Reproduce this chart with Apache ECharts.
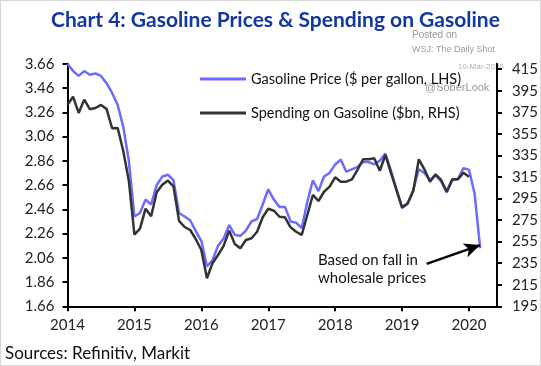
<!DOCTYPE html>
<html><head><meta charset="utf-8">
<script src="https://cdn.jsdelivr.net/npm/echarts@6/dist/echarts.min.js"></script>
<style>
html,body{margin:0;padding:0;background:#fff}
#c{width:541px;height:366px}
#f{position:absolute;left:0;top:0;width:539px;height:364px;border:1px solid #d8d8d8;pointer-events:none}
</style>
</head><body><div id="c"></div><div id="f"></div>
<script>
// Month categories Jan 2014 .. Jun 2020 (axis extent)
const months = [];
for (let y = 2014; y <= 2020; y++) for (let m = 1; m <= 12; m++) months.push(y + '-' + String(m).padStart(2, '0'));
months.length = 78;

// Gasoline price ($ per gallon, LHS), Jan 2014 .. Mar 2020
const gasPrice = [3.66,3.60,3.56,3.60,3.57,3.58,3.56,3.50,3.42,3.32,3.14,2.86,
  2.40,2.43,2.54,2.50,2.66,2.73,2.745,2.70,2.43,2.40,2.37,2.28,
  2.20,1.99,2.04,2.16,2.22,2.33,2.25,2.24,2.285,2.36,2.38,2.50,
  2.625,2.54,2.48,2.48,2.36,2.35,2.305,2.52,2.70,2.61,2.73,2.76,
  2.83,2.87,2.77,2.79,2.81,2.85,2.85,2.83,2.86,2.92,2.78,2.62,
  2.47,2.505,2.62,2.79,2.76,2.70,2.74,2.69,2.60,2.70,2.71,2.80,
  2.785,2.59,2.14];

// Spending on gasoline ($bn, RHS), Jan 2014 .. Jan 2020
const spending = [382,389.5,374.4,386.7,377.9,379,381.8,378.2,360.2,360.4,339.1,311.3,
  261.6,267,285.6,278.5,300.9,307.8,311.7,306.3,274.3,268.6,265.8,257.4,
  247.2,221,234.9,242.6,251,265.2,252.8,248.8,256.5,258.1,264.2,277.6,
  285.5,283.7,278.1,277.6,268.3,264.2,261.2,279.7,298.3,292.7,301.3,306,
  314.7,310.6,310.6,312.8,321.5,331.4,331.4,332.3,320.8,335.4,318.7,302.9,
  286.9,290.6,302,331.4,322.1,310.6,317.5,312.2,301.3,312.8,312.8,319,
  315.3];

const yearLabels = ['2014','2015','2016','2017','2018','2019','2020'];
const priceTicks = [1.66,1.86,2.06,2.26,2.46,2.66,2.86,3.06,3.26,3.46,3.66];
const spendTicks = [195,215,235,255,275,295,315,335,355,375,395,415];

const FONT = 'Lato';
const yearTickIdx = yearLabels.map(y => months.indexOf(y + '-01'));

const chart = echarts.init(document.getElementById('c'), null, {renderer: 'canvas'});
const axisLineStyle = {color: '#000', width: 2};
chart.setOption({
  animation: false,
  backgroundColor: '#fff',
  textStyle: {fontFamily: FONT},
  title: {
    text: 'Chart 4: Gasoline Prices & Spending on Gasoline',
    left: 46, top: 5,
    textStyle: {fontFamily: FONT, fontWeight: 'bold', fontSize: 21, color: '#1237A0'}
  },
  legend: {
    left: 195, top: 65, orient: 'vertical', itemGap: 16,
    icon: 'rect', itemWidth: 46, itemHeight: 3,
    textStyle: {fontFamily: FONT, fontSize: 14.5, color: '#111', lineHeight: 18},
    data: ['Gasoline Price ($ per gallon, LHS)', 'Spending on Gasoline ($bn, RHS)']
  },
  grid: {left: 67.5, right: 43.7, top: 63.8, bottom: 59.7, containLabel: false},
  xAxis: {
    type: 'value', min: 0, max: months.length - 1,
    axisLine: {show: true, onZero: false, lineStyle: axisLineStyle},
    axisTick: {show: true, length: 5, lineStyle: {width: 2, color: '#000'}, customValues: yearTickIdx},
    axisLabel: {customValues: yearTickIdx, margin: 11, fontSize: 15, color: '#222', fontFamily: FONT,
      formatter: v => months[Math.round(v)].slice(0, 4)},
    splitLine: {show: false}
  },
  yAxis: [{
    type: 'value', position: 'left', min: priceTicks[0], max: priceTicks[priceTicks.length - 1],
    axisLine: {show: true, onZero: false, lineStyle: axisLineStyle},
    axisTick: {show: true, length: 5, lineStyle: {width: 2, color: '#000'}, customValues: priceTicks},
    axisLabel: {customValues: priceTicks, margin: 13, fontSize: 15, color: '#222', fontFamily: FONT,
      formatter: v => v.toFixed(2)},
    splitLine: {show: false}
  }, {
    type: 'value', position: 'right', min: 195, max: 420,
    axisLine: {show: true, onZero: false, lineStyle: axisLineStyle},
    axisTick: {show: true, length: 5, lineStyle: {width: 2, color: '#000'}, customValues: spendTicks},
    axisLabel: {customValues: spendTicks, margin: 15, fontSize: 15, color: '#222', fontFamily: FONT},
    splitLine: {show: false}
  }],
  series: [{
    name: 'Gasoline Price ($ per gallon, LHS)', type: 'line', yAxisIndex: 0,
    symbol: 'none', lineStyle: {color: '#6B6BFF', width: 2.5}, itemStyle: {color: '#6B6BFF'},
    data: gasPrice.map((v, i) => [i, v]),
    markLine: {
      silent: true, animation: false,
      lineStyle: {color: '#000', width: 2.5, type: 'solid'},
      label: {show: false},
      data: [[{coord: [64.4, 2.01], symbol: 'none'}, {coord: [74.0, 2.165], symbol: 'arrow', symbolSize: [11, 16]}]]
    }
  }, {
    name: 'Spending on Gasoline ($bn, RHS)', type: 'line', yAxisIndex: 1,
    symbol: 'none', lineStyle: {color: '#333333', width: 2.5}, itemStyle: {color: '#333333'},
    data: spending.map((v, i) => [i, v])
  }],
  graphic: [
    {type: 'text', left: 318, top: 251, style: {text: 'Based on fall in\nwholesale prices', font: '15px ' + FONT, fill: '#111', lineHeight: 18}},
    {type: 'text', left: 412, top: 30, style: {text: 'Posted on', font: '10px Liberation Sans', fill: '#9a9a9a'}},
    {type: 'text', left: 412, top: 45, style: {text: 'WSJ: The Daily Shot', font: '9px Liberation Sans', fill: '#9a9a9a'}},
    {type: 'text', left: 458, top: 63, style: {text: '10-Mar-2020', font: '8px Liberation Sans', fill: '#b0b0b0'}},
    {type: 'text', left: 425, top: 82, style: {text: '@SoberLook', font: '11px Liberation Sans', fill: '#999'}},
    {type: 'text', left: 5, top: 345, style: {text: 'Sources: Refinitiv, Markit', font: '17px ' + FONT, fill: '#111'}}
  ]
});
</script>
</body></html>
